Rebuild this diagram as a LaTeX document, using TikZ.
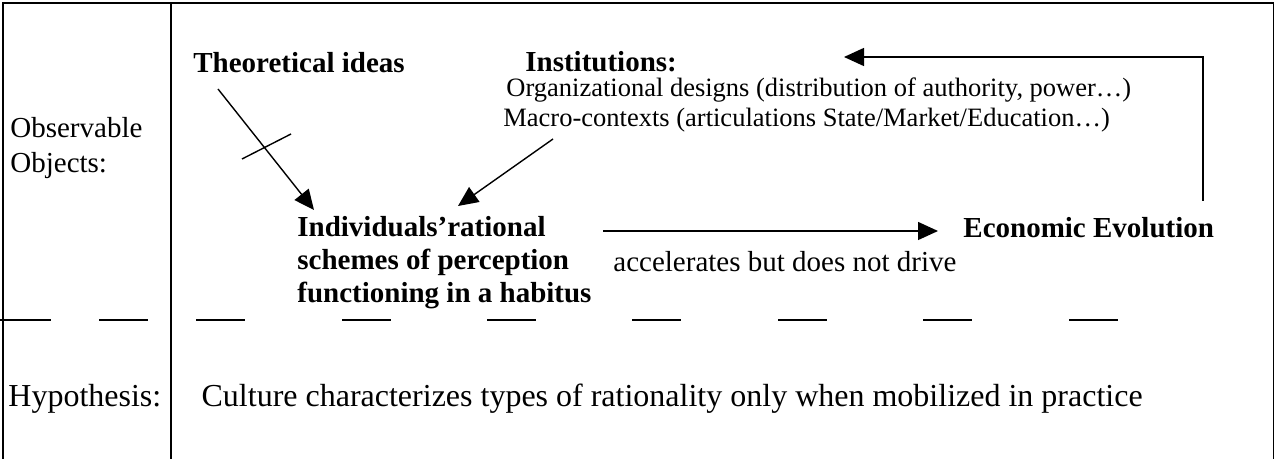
\documentclass[tikz,border=0pt]{standalone}
\usepackage{fontspec}
\setmainfont{Liberation Serif}
\usetikzlibrary{arrows.meta}
\begin{document}
\begin{tikzpicture}[x=0.5pt,y=-0.5pt,
  lbl/.style={anchor=base west, inner sep=0pt, font=\fontsize{14.5}{17}\selectfont},
  lblb/.style={anchor=base west, inner sep=0pt, font=\fontsize{14.5}{17}\selectfont\bfseries},
  lbls/.style={anchor=base west, inner sep=0pt, font=\fontsize{13.25}{15}\selectfont},
  lblh/.style={anchor=base west, inner sep=0pt, font=\fontsize{16}{19}\selectfont},
  rule/.style={line width=0.9pt},
  arr/.style={line width=0.7pt, -{Triangle[length=10pt,width=9pt]}},
  dashseg/.style={line width=0.75pt}]
\useasboundingbox (0,0) rectangle (1275,459);
\fill[white] (0,0) rectangle (1275,459);
\clip (0,0) rectangle (1275,459);

% table frame and column divider
\draw[rule] (3,470) -- (3,3) -- (1273.5,3) -- (1273.5,470);
\draw[rule] (171,3) -- (171,470);

% row labels
\node[lbl] (obs1) at (10,138) {Observable};
\node[lbl] (obs2) at (10,173) {Objects:};
\node[lblh] (hyp) at (8,407) {Hypothesis:};

% upper row content
\node[lblb] (theo) at (193,73) {Theoretical ideas};
\node[lblb] (inst) at (525,72) {Institutions:};
\node[lbls] (org) at (506,97) {Organizational designs (distribution of authority, power…)};
\node[lbls] (macro) at (503,127) {Macro-contexts (articulations State/Market/Education…)};

\node[lblb] (ind1) at (297,237) {Individuals’rational};
\node[lblb] (ind2) at (297,270) {schemes of perception};
\node[lblb] (ind3) at (297,303) {functioning in a habitus};

\node[lblb] (eco) at (963,238) {Economic Evolution};
\node[lbl] (acc) at (613,272) {accelerates but does not drive};

% lower row content
\node[lblh, anchor=base east] (cult) at (1143,407) {Culture characterizes types of rationality only when mobilized in practice};

% connector end points
\coordinate (theoTail) at (218,89);
\coordinate (theoTip) at (314,210);
\coordinate (instTail) at (553,139);
\coordinate (instTip) at (458,206);
\coordinate (accTail) at (603,231);
\coordinate (accTip) at (938,231);
\coordinate (ecoTop) at (1203,201);
\coordinate (loopCorner) at (1203,57);
\coordinate (loopTip) at (844,57);
\coordinate (barA) at (242,159);
\coordinate (barB) at (291,134);

\draw[arr] (theoTail) -- (theoTip);
\draw[line width=0.7pt] (barA) -- (barB);
\draw[arr] (instTail) -- (instTip);
\draw[arr] (accTail) -- (accTip);
\draw[arr] (ecoTop) -- (loopCorner) -- (loopTip);

% dashed separation between the two rows
\foreach \a/\b in {0/51, 99/148, 196/245, 342/391, 487/536, 632/681, 778/827, 923/972, 1069/1118}
  \draw[dashseg] (\a,320) -- (\b,320);
\end{tikzpicture}
\end{document}
